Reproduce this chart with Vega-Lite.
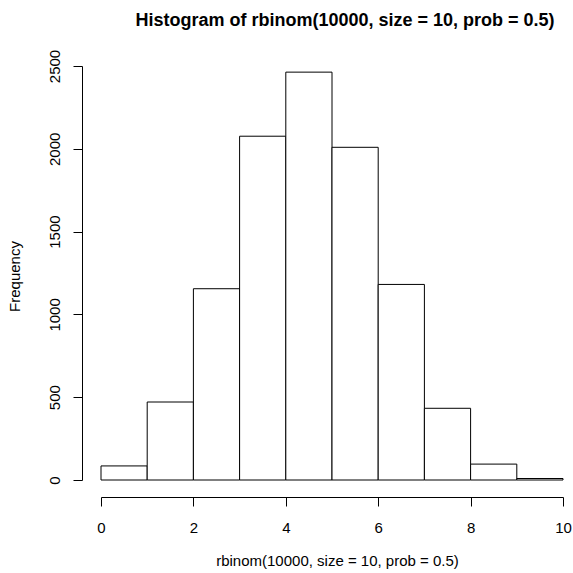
{
  "$schema": "https://vega.github.io/schema/vega-lite/v6.json",
  "autosize": {"type": "none"},
  "width": 462,
  "height": 414,
  "padding": {"left": 101, "top": 66, "right": 10, "bottom": 93},
  "background": "white",
  "config": {
    "view": {"stroke": null},
    "font": "Liberation Sans"
  },
  "title": {
    "text": "Histogram of rbinom(10000, size = 10, prob = 0.5)",
    "font": "Liberation Sans",
    "fontSize": 18,
    "fontWeight": "bold",
    "color": "black",
    "anchor": "middle",
    "frame": "group",
    "baseline": "alphabetic",
    "offset": 5,
    "dx": 13
  },
  "data": {
    "values": [
      {"lo": 0, "hi": 1, "count": 85},
      {"lo": 1, "hi": 2, "count": 471},
      {"lo": 2, "hi": 3, "count": 1155},
      {"lo": 3, "hi": 4, "count": 2076},
      {"lo": 4, "hi": 5, "count": 2463},
      {"lo": 5, "hi": 6, "count": 2009},
      {"lo": 6, "hi": 7, "count": 1181},
      {"lo": 7, "hi": 8, "count": 433},
      {"lo": 8, "hi": 9, "count": 96},
      {"lo": 9, "hi": 10, "count": 9}
    ]
  },
  "mark": {"type": "rect", "fill": "white", "stroke": "black", "strokeWidth": 1},
  "encoding": {
    "x": {
      "field": "lo",
      "type": "quantitative",
      "scale": {"domain": [0, 10], "nice": false, "zero": false},
      "axis": {
        "title": "rbinom(10000, size = 10, prob = 0.5)",
        "values": [0, 2, 4, 6, 8, 10],
        "format": "d",
        "offset": 17,
        "grid": false,
        "domainColor": "black",
        "domainWidth": 1,
        "tickColor": "black",
        "tickWidth": 1,
        "tickSize": 9,
        "labelFont": "Liberation Sans",
        "labelFontSize": 15,
        "labelColor": "black",
        "labelBaseline": "alphabetic",
        "labelPadding": 26,
        "labelFlush": false,
        "labelOverlap": false,
        "titleFont": "Liberation Sans",
        "titleFontSize": 15,
        "titleFontWeight": "normal",
        "titleColor": "black",
        "titleBaseline": "alphabetic",
        "titleX": 236,
        "titleY": 68
      }
    },
    "x2": {"field": "hi"},
    "y": {
      "field": "count",
      "type": "quantitative",
      "scale": {"domain": [0, 2500], "nice": false},
      "axis": {
        "title": "Frequency",
        "values": [0, 500, 1000, 1500, 2000, 2500],
        "format": "d",
        "offset": 19,
        "grid": false,
        "domainColor": "black",
        "domainWidth": 1,
        "tickColor": "black",
        "tickWidth": 1,
        "tickSize": 9,
        "labelFont": "Liberation Sans",
        "labelFontSize": 15,
        "labelColor": "black",
        "labelAngle": 270,
        "labelAlign": "center",
        "labelBaseline": "alphabetic",
        "labelPadding": 14,
        "labelFlush": false,
        "labelOverlap": false,
        "titleFont": "Liberation Sans",
        "titleFontSize": 15,
        "titleFontWeight": "normal",
        "titleColor": "black",
        "titleAngle": 270,
        "titleAlign": "center",
        "titleBaseline": "alphabetic",
        "titleX": -63,
        "titleY": 210
      }
    },
    "y2": {"datum": 0}
  }
}
